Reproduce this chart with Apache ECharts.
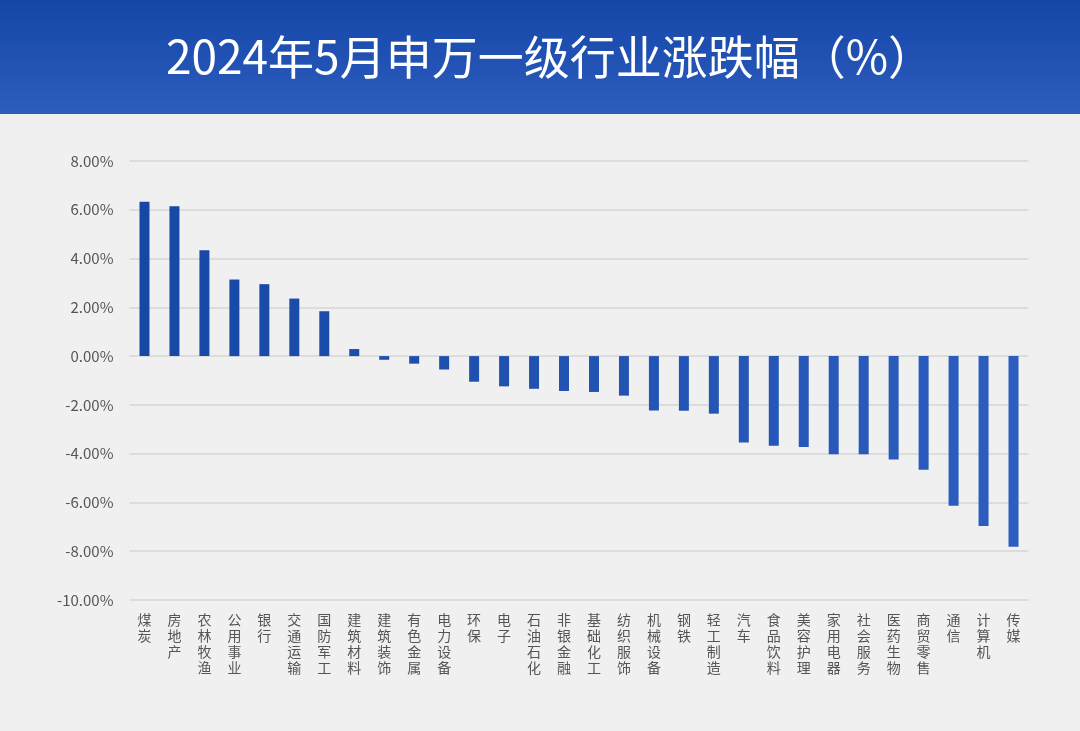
<!DOCTYPE html>
<html>
<head>
<meta charset="utf-8">
<script src="https://cdn.jsdelivr.net/npm/echarts@6/dist/echarts.min.js"></script>
<style>
html,body{margin:0;padding:0;background:#f0f0f0;}
#chart{width:1080px;height:731px;}
</style>
</head>
<body>
<div id="chart"></div>
<script>
const titleText = '2024年5月申万一级行业涨跌幅（%）';
const categories = ['煤炭','房地产','农林牧渔','公用事业','银行','交通运输','国防军工','建筑材料','建筑装饰','有色金属','电力设备','环保','电子','石油石化','非银金融','基础化工','纺织服饰','机械设备','钢铁','轻工制造','汽车','食品饮料','美容护理','家用电器','社会服务','医药生物','商贸零售','通信','计算机','传媒'];
const values = [6.33,6.14,4.34,3.14,2.95,2.36,1.84,0.29,-0.15,-0.31,-0.55,-1.05,-1.24,-1.34,-1.43,-1.47,-1.62,-2.23,-2.24,-2.36,-3.54,-3.68,-3.73,-4.02,-4.02,-4.24,-4.66,-6.14,-6.97,-7.82];
const yMin = -10, yMax = 8, yStep = 2;

const chart = echarts.init(document.getElementById('chart'), null, {renderer:'canvas'});
const FONT = '"Noto Sans CJK SC","Noto Sans",sans-serif';

function lerpColor(a,b,t){
  const pa=[parseInt(a.slice(1,3),16),parseInt(a.slice(3,5),16),parseInt(a.slice(5,7),16)];
  const pb=[parseInt(b.slice(1,3),16),parseInt(b.slice(3,5),16),parseInt(b.slice(5,7),16)];
  return 'rgb('+pa.map((v,i)=>Math.round(v+(pb[i]-v)*t)).join(',')+')';
}

chart.setOption({
  backgroundColor:'#f0f0f0',
  animation:false,
  graphic:[
    {type:'rect', left:0, top:0, shape:{width:1080,height:114}, z:-1,
     style:{fill:new echarts.graphic.LinearGradient(0,0,0,1,[{offset:0,color:'#1446a8'},{offset:1,color:'#2d5dbd'}])}},
    {type:'text', x:550, y:57, z:10,
     style:{text:titleText, fill:'#ffffff', font:'400 46px '+FONT, textAlign:'center', textVerticalAlign:'middle'}}
  ],
  grid:{left:129.5, right:51.5, top:161, bottom:131, containLabel:false},
  xAxis:{
    type:'category', data:categories,
    axisLine:{show:false}, axisTick:{show:false},
    axisLabel:{
      interval:0, color:'#555555', fontSize:14, fontFamily:FONT,
      lineHeight:16, verticalAlign:'top', margin:12,
      formatter:v=>v.split('').join('\n')
    }
  },
  yAxis:{
    type:'value', min:yMin, max:yMax, interval:yStep,
    axisLine:{show:false}, axisTick:{show:false},
    axisLabel:{color:'#555555', fontSize:15, fontFamily:FONT, margin:16,
      formatter:v=>v.toFixed(2)+'%'},
    splitLine:{show:true, lineStyle:{color:'#dcdcdc', width:2}}
  },
  series:[{
    type:'bar', data:values, barWidth:10,
    itemStyle:{color:p=>lerpColor('#1848a6','#2c5dbf',p.dataIndex/(values.length-1))}
  }]
});
</script>
</body>
</html>
